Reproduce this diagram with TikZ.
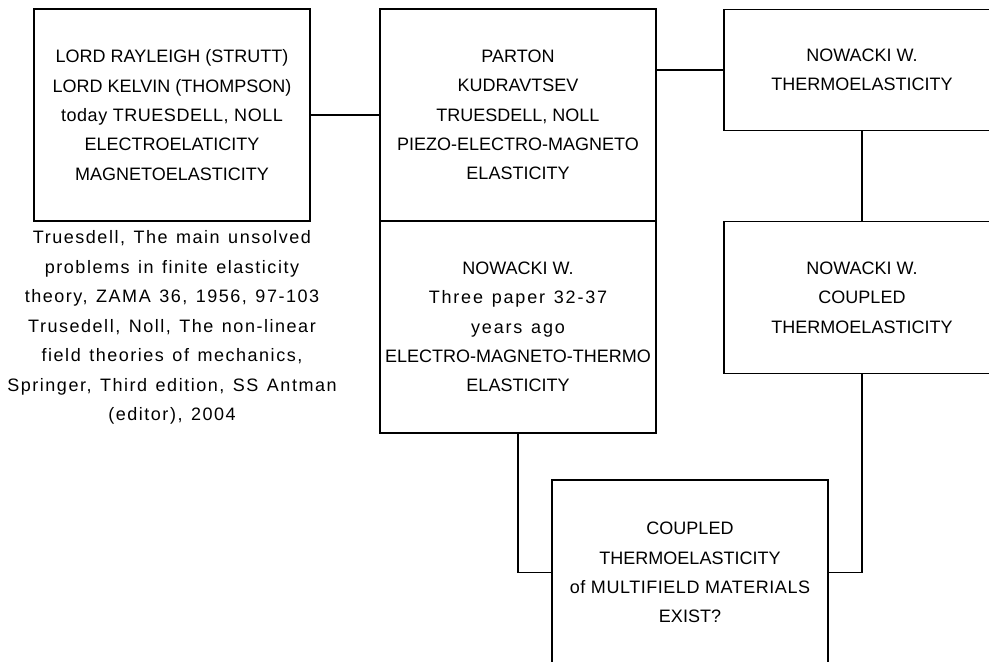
\documentclass[tikz,border=0pt]{standalone}
\usepackage{fontspec}
\setmainfont{Liberation Sans}
\newfontfamily\widefont[LetterSpace=10,WordSpace=1.3]{Liberation Sans}
\newfontfamily\capfont[LetterSpace=8.5,WordSpace=1.3]{Liberation Sans}
\newfontfamily\midfont[LetterSpace=3]{Liberation Sans}
\begin{document}
\begin{tikzpicture}[x=1pt,y=-1pt,
  txt/.style={font=\fontsize{18}{29.3}\selectfont, align=center, inner sep=0pt},
  box/.style={txt, draw, line width=1.1pt, minimum width=276pt},
  link/.style={line width=1.1pt}]
\clip (0,0) rectangle (989,662);
\fill[white] (0,0) rectangle (989,662);
\node[box, minimum height=212pt] (A) at (172,115) {LORD RAYLEIGH (STRUTT)\\LORD KELVIN (THOMPSON)\\{\midfont today TRUESDELL, NOLL}\\ELECTROELATICITY\\MAGNETOELASTICITY};
\node[txt, font=\capfont\fontsize{18}{29.5}\selectfont] (ref) at (172,327.5) {Truesdell, The main unsolved\\problems in finite elasticity\\theory, ZAMA 36, 1956, 97-103\\Trusedell, Noll, The non-linear\\field theories of mechanics,\\Springer, Third edition, SS Antman\\(editor), 2004};
\node[box, minimum height=212pt] (B) at (518,115) {PARTON\\KUDRAVTSEV\\TRUESDELL, NOLL\\PIEZO-ELECTRO-MAGNETO\\ELASTICITY};
\node[box, minimum height=212pt] (C) at (518,327) {NOWACKI W.\\{\widefont Three paper 32-37}\\{\widefont years ago}\\ELECTRO-MAGNETO-THERMO\\ELASTICITY};
\node[box, minimum height=121pt] (D) at (862,70) {NOWACKI W.\\THERMOELASTICITY};
\node[box, minimum height=152pt] (E) at (862,297.5) {NOWACKI W.\\COUPLED\\THERMOELASTICITY};
\node[box, minimum height=185pt] (F) at (690,572.5) {COUPLED\\THERMOELASTICITY\\{\midfont of MULTIFIELD MATERIALS}\\EXIST?};
\draw[link] (A.east) -- (B.west);
\draw[link] (B.east |- D.west) -- (D.west);
\draw[link] (D.south) -- (E.north);
\draw[link] (C.south) |- (F.west);
\draw[link] (E.south) |- (F.east);
\end{tikzpicture}
\end{document}
